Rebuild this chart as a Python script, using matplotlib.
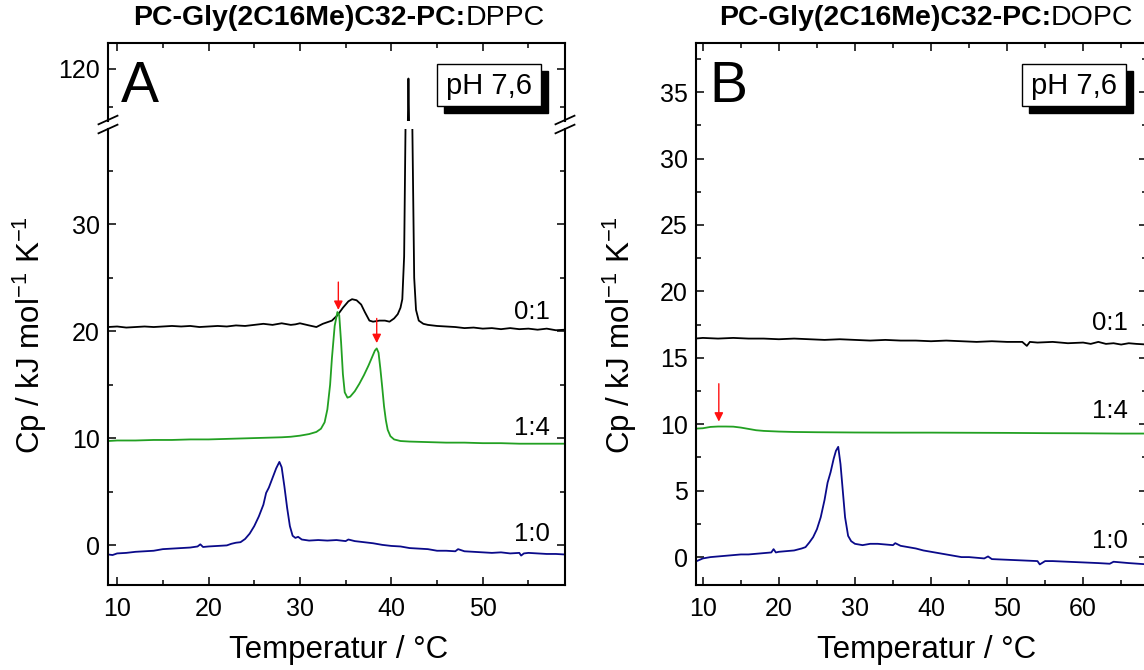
import matplotlib
matplotlib.use("Agg")
import matplotlib.pyplot as plt
from matplotlib.ticker import MultipleLocator
from matplotlib.lines import Line2D
from matplotlib.patches import Rectangle

plt.rcParams['font.family'] = ['Liberation Sans', 'DejaVu Sans']
plt.rcParams['mathtext.default'] = 'regular'

# ---------------- data: panel A (DPPC) ----------------
A_black_T = [9.0, 10, 11, 12, 13, 14, 15, 16, 17, 18, 19, 20, 21, 22, 23, 24, 25, 26, 27, 28, 29, 29.5,
             30, 31, 31.8, 32.5, 33, 33.5, 34.1, 34.7, 35.3, 35.7, 36.2, 36.7, 37.1, 37.6, 38.0, 38.7,
             39.3, 39.8, 40.3, 40.7, 41.0, 41.2, 41.4, 41.55, 41.7, 41.8, 41.87, 41.95, 42.05, 42.3,
             42.5, 42.7, 43.0, 43.5, 44, 45, 46, 47, 48, 49, 50, 51, 52, 53, 54, 55, 56, 57, 58, 59]
A_black_Cp = [20.4, 20.45, 20.35, 20.4, 20.45, 20.4, 20.45, 20.5, 20.45, 20.5, 20.4, 20.45, 20.5, 20.45,
              20.55, 20.5, 20.6, 20.7, 20.6, 20.75, 20.6, 20.65, 20.75, 20.55, 20.4, 20.7, 20.85, 21.0,
              21.5, 22.2, 22.8, 23.0, 22.9, 22.5, 21.8, 21.0, 20.9, 21.0, 21.0, 20.9, 21.2, 21.6, 22.2,
              23.0, 27.0, 39.0, 70.0, 105.0, 117.5, 105.0, 70.0, 39.0, 25.0, 22.0, 21.0, 20.7, 20.6,
              20.5, 20.45, 20.4, 20.3, 20.35, 20.25, 20.3, 20.2, 20.3, 20.2, 20.25, 20.15, 20.25, 20.1, 20.15]

A_green_T = [9, 10, 12, 14, 16, 18, 20, 22, 24, 26, 28, 29, 30, 31, 31.8, 32.3, 32.7, 33.0, 33.3, 33.5,
             33.8, 34.1, 34.3, 34.5, 34.7, 34.9, 35.2, 35.5, 36.0, 36.5, 37.0, 37.5, 37.9, 38.2, 38.4,
             38.6, 38.8, 39.0, 39.2, 39.4, 39.6, 39.9, 40.3, 41, 42, 44, 46, 48, 50, 52, 54, 56, 58, 59]
A_green_Cp = [9.75, 9.8, 9.8, 9.85, 9.85, 9.9, 9.9, 9.95, 10.0, 10.05, 10.1, 10.15, 10.25, 10.4, 10.6,
              10.9, 11.5, 12.7, 15.0, 17.5, 20.5, 21.8, 21.5, 19.0, 16.0, 14.3, 13.8, 13.9, 14.4, 15.1,
              15.9, 16.8, 17.6, 18.2, 18.4, 18.0, 16.5, 14.8, 13.0, 11.7, 10.8, 10.2, 9.9, 9.75, 9.7,
              9.65, 9.6, 9.6, 9.55, 9.55, 9.5, 9.5, 9.5, 9.5]

A_blue_T = [9, 9.5, 10, 11, 12, 13, 14, 15, 16, 17, 18, 18.8, 19.1, 19.4, 20, 21, 22, 22.5, 23, 23.5,
            24.0, 24.5, 25.0, 25.5, 26.0, 26.3, 26.6, 27.0, 27.4, 27.75, 28.0, 28.3, 28.6, 28.9, 29.2,
            29.5, 29.8, 30.2, 31, 32, 33, 34, 35, 35.3, 36, 37, 38, 39, 40, 41, 42, 43, 44, 45, 46, 47,
            47.3, 48, 49, 50, 51, 52, 53, 54, 54.2, 54.5, 55, 56, 57, 58, 59]
A_blue_Cp = [-0.85, -0.9, -0.75, -0.7, -0.6, -0.55, -0.5, -0.35, -0.3, -0.25, -0.2, -0.1, 0.1, -0.15,
             -0.1, -0.05, 0.0, 0.15, 0.25, 0.3, 0.6, 1.1, 1.8, 2.7, 3.8, 4.9, 5.4, 6.3, 7.2, 7.8, 7.3,
             5.5, 3.5, 1.8, 0.9, 0.7, 0.8, 0.55, 0.45, 0.5, 0.45, 0.5, 0.4, 0.55, 0.4, 0.3, 0.2, 0.05,
             -0.05, -0.1, -0.25, -0.3, -0.35, -0.5, -0.5, -0.55, -0.35, -0.55, -0.6, -0.65, -0.7, -0.65,
             -0.75, -0.7, -0.95, -0.75, -0.7, -0.75, -0.8, -0.8, -0.85]

A_arrows_T = [34.2, 38.4]
A_arrows_top = [24.6, 21.2]
A_arrows_tip = [22.0, 18.9]

# ---------------- data: panel B (DOPC) ----------------
B_black_T = [9, 10, 12, 14, 16, 18, 20, 22, 24, 26, 28, 30, 32, 34, 36, 38, 40, 42, 44, 46, 48, 50,
             52, 52.6, 53, 54, 56, 58, 60, 61, 62, 63, 64, 65, 66, 67, 68.5]
B_black_Cp = [16.45, 16.5, 16.45, 16.5, 16.45, 16.45, 16.4, 16.45, 16.4, 16.35, 16.4, 16.35, 16.3,
              16.35, 16.3, 16.3, 16.25, 16.3, 16.25, 16.2, 16.25, 16.2, 16.2, 15.9, 16.2, 16.15, 16.2,
              16.1, 16.15, 16.05, 16.2, 16.05, 16.1, 16.0, 16.1, 16.05, 16.0]

B_green_T = [9, 10, 11, 12, 13, 14, 15, 16, 17, 18, 20, 22, 25, 30, 35, 40, 45, 50, 55, 60, 65, 68.5]
B_green_Cp = [9.67, 9.7, 9.8, 9.83, 9.83, 9.82, 9.75, 9.65, 9.55, 9.5, 9.45, 9.42, 9.4, 9.38, 9.37,
              9.37, 9.36, 9.35, 9.33, 9.32, 9.3, 9.3]

B_blue_T = [9.2, 10, 11, 12, 13, 14, 15, 16, 17, 18, 19, 19.3, 19.6, 20, 21, 22, 23, 23.5, 24, 24.5,
            25.0, 25.5, 26.0, 26.4, 26.8, 27.2, 27.5, 27.8, 28.1, 28.4, 28.7, 29.1, 29.5, 30, 31, 32,
            33, 34, 35, 35.3, 36, 37, 38, 39, 40, 42, 44, 45, 46, 47, 47.5, 48, 50, 52, 54, 54.3, 55,
            56, 58, 60, 62, 63.5, 64, 66, 68.5]
B_blue_Cp = [-0.3, -0.1, 0.0, 0.05, 0.1, 0.15, 0.2, 0.2, 0.25, 0.3, 0.35, 0.6, 0.35, 0.4, 0.45, 0.5,
             0.65, 0.75, 1.1, 1.5, 2.1, 3.0, 4.3, 5.6, 6.4, 7.4, 8.0, 8.3, 7.0, 5.0, 3.0, 1.6, 1.2,
             1.0, 0.9, 1.0, 1.0, 0.95, 0.9, 1.05, 0.85, 0.75, 0.65, 0.5, 0.4, 0.2, 0.0, 0.0, -0.05,
             -0.1, 0.05, -0.15, -0.2, -0.25, -0.3, -0.55, -0.3, -0.3, -0.35, -0.4, -0.45, -0.5, -0.35,
             -0.45, -0.55]

B_arrow_T = [12.1]
B_arrow_top = [13.05]
B_arrow_tip = [10.2]

series_labels = ["0:1", "1:4", "1:0"]
A_label_y = [21.8, 11.0, 1.1]
B_label_y = [17.6, 11.0, 1.2]
A_label_x = 57.3
B_label_x = 65.9

title_bold = "PC-Gly(2C16Me)C32-PC:"
titles_normal = ["DPPC", "DOPC"]
panel_letters = ["A", "B"]
ph_text = "pH 7,6"
xlabel = "Temperatur / °C"
ylabel = "Cp / kJ mol$^{-1}$ K$^{-1}$"

# ---------------- styling ----------------
C_BLACK = "#000000"
C_GREEN = "#22a022"
C_BLUE = "#0a0a8a"
C_RED = "#ff1010"
LW = 1.3
FS_TICK = 18
FS_LAB = 22.5
FS_SER = 18.5
FS_TITLE = 20.5
FS_PH = 21
FS_LET = 41

W, H = 1144, 670
fig = plt.figure(figsize=(W / 100, H / 100), dpi=100)


def fx(px):
    return px / W


def fy(py):
    return 1 - py / H


def style_axes(ax, top=True, bottom=True):
    ax.tick_params(which='both', direction='in', top=top, bottom=bottom, left=True, right=True,
                   labelsize=FS_TICK, width=1.1, colors='black')
    ax.tick_params(which='major', length=6)
    ax.tick_params(which='minor', length=3.5)
    ax.tick_params(axis='y', pad=6)
    ax.tick_params(axis='x', pad=9)
    for s in ax.spines.values():
        s.set_linewidth(1.5)


# Panel A: broken axis
axA_up = fig.add_axes([fx(108), fy(121), fx(565 - 108), (121 - 43) / H])
axA = fig.add_axes([fx(108), fy(585), fx(565 - 108), (585 - 129) / H])
# Panel B
axB = fig.add_axes([fx(696), fy(585), fx(1147 - 696), (585 - 43) / H])

for ax in (axA_up, axA):
    ax.plot(A_black_T, A_black_Cp, color=C_BLACK, lw=LW)
    ax.plot(A_green_T, A_green_Cp, color=C_GREEN, lw=LW)
    ax.plot(A_blue_T, A_blue_Cp, color=C_BLUE, lw=LW)
    ax.set_xlim(9, 59)
    ax.xaxis.set_major_locator(MultipleLocator(10))
    ax.xaxis.set_minor_locator(MultipleLocator(5))

axA_up.set_ylim(106.5, 126.7)
axA_up.yaxis.set_major_locator(MultipleLocator(20))
axA_up.yaxis.set_minor_locator(MultipleLocator(10))
axA_up.spines['bottom'].set_visible(False)
style_axes(axA_up, top=True, bottom=False)
axA_up.tick_params(labelbottom=False)

axA.set_ylim(-3.7, 38.9)
axA.yaxis.set_major_locator(MultipleLocator(10))
axA.yaxis.set_minor_locator(MultipleLocator(5))
axA.spines['top'].set_visible(False)
style_axes(axA, top=False, bottom=True)

axB.plot(B_black_T, B_black_Cp, color=C_BLACK, lw=LW)
axB.plot(B_green_T, B_green_Cp, color=C_GREEN, lw=LW)
axB.plot(B_blue_T, B_blue_Cp, color=C_BLUE, lw=LW)
axB.set_xlim(9.1, 68.4)
axB.set_ylim(-2.1, 38.7)
axB.xaxis.set_major_locator(MultipleLocator(10))
axB.xaxis.set_minor_locator(MultipleLocator(5))
axB.yaxis.set_major_locator(MultipleLocator(5))
axB.yaxis.set_minor_locator(MultipleLocator(2.5))
style_axes(axB)

# arrows
arrow_kw = dict(arrowstyle='-|>', color=C_RED, lw=1.0, mutation_scale=13, shrinkA=0, shrinkB=0)
for t, y0, y1 in zip(A_arrows_T, A_arrows_top, A_arrows_tip):
    axA.annotate("", xy=(t, y1), xytext=(t, y0), arrowprops=arrow_kw)
for t, y0, y1 in zip(B_arrow_T, B_arrow_top, B_arrow_tip):
    axB.annotate("", xy=(t, y1), xytext=(t, y0), arrowprops=arrow_kw)

# series labels
for lab, y in zip(series_labels, A_label_y):
    axA.text(A_label_x, y, lab, ha='right', va='center', fontsize=FS_SER)
for lab, y in zip(series_labels, B_label_y):
    axB.text(B_label_x, y, lab, ha='right', va='center', fontsize=FS_SER)

# axis labels
fig.text(fx(339), fy(650), xlabel, ha='center', va='center', fontsize=FS_LAB)
fig.text(fx(927), fy(650), xlabel, ha='center', va='center', fontsize=FS_LAB)
fig.text(fx(30), fy(335), ylabel, ha='center', va='center', rotation=90, fontsize=FS_LAB)
fig.text(fx(620), fy(335), ylabel, ha='center', va='center', rotation=90, fontsize=FS_LAB)

# panel letters
fig.text(fx(121), fy(87), panel_letters[0], ha='left', va='center', fontsize=FS_LET)
fig.text(fx(709), fy(87), panel_letters[1], ha='left', va='center', fontsize=FS_LET)

renderer = fig.canvas.get_renderer()

# pH boxes with drop shadow (box 104 x 42 px)
BOX_W, BOX_H, SH = 104, 42, 7
for left_px in (437, 1022):
    top_px = 64
    fig.add_artist(Rectangle((fx(left_px + SH), fy(top_px + BOX_H + SH)), fx(BOX_W), BOX_H / H,
                             transform=fig.transFigure, facecolor='black', edgecolor='black', lw=1))
    fig.add_artist(Rectangle((fx(left_px), fy(top_px + BOX_H)), fx(BOX_W), BOX_H / H,
                             transform=fig.transFigure, facecolor='white', edgecolor='black', lw=1))
    fig.text(fx(left_px + BOX_W / 2), fy(top_px + BOX_H / 2 + 1), ph_text, ha='center', va='center',
             fontsize=FS_PH, zorder=5)

# titles (bold + normal)
for cx_px, norm in ((339, titles_normal[0]), (926, titles_normal[1])):
    tb = fig.text(0, fy(18), title_bold, ha='left', va='center', fontsize=FS_TITLE, fontweight='bold')
    tn = fig.text(0, fy(18), norm, ha='left', va='center', fontsize=FS_TITLE)
    wb = tb.get_window_extent(renderer).width
    wn = tn.get_window_extent(renderer).width
    left = cx_px - (wb + wn) / 2
    tb.set_x(fx(left))
    tn.set_x(fx(left + wb))

# break marks
for xs in (108, 565):
    for yc in (120, 129):
        fig.add_artist(Line2D([fx(xs - 9.5), fx(xs + 9.5)], [fy(yc + 4.3), fy(yc - 4.3)],
                              color='black', lw=1.3, transform=fig.transFigure))

fig.savefig("out.png", dpi=100)
